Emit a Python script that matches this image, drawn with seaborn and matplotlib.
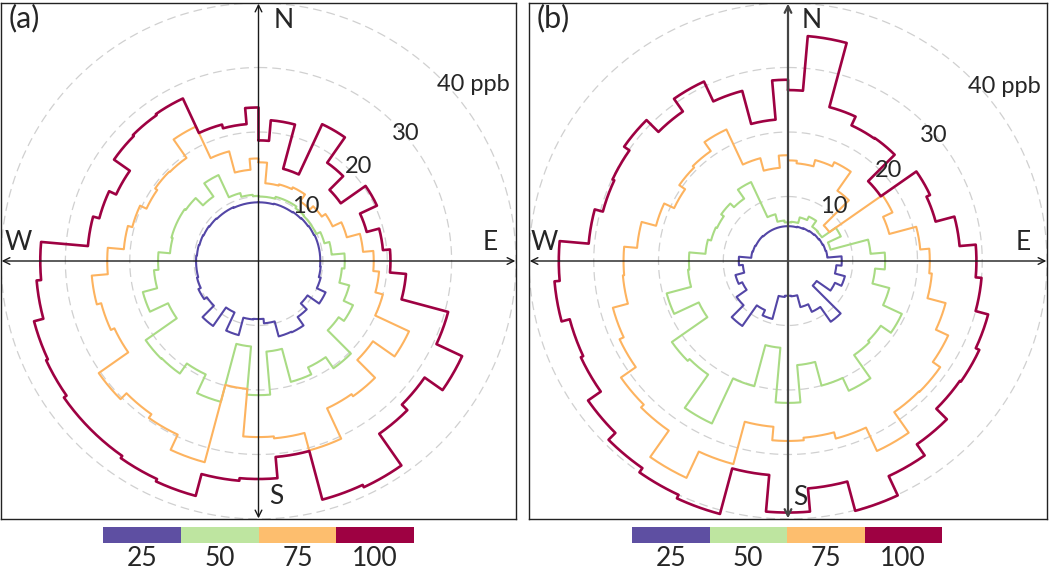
import numpy as np
import pandas as pd
import seaborn as sns
import matplotlib
matplotlib.use("Agg")
import matplotlib.pyplot as plt
from matplotlib.colors import ListedColormap

# wind direction bins (deg from north); 0 covers 0-5, 360 covers 355-360
dirs = list(range(0, 361, 10))

# panel (a) percentile radii, ppb
a_p25 = [9.1, 9.1, 9.2, 9.2, 9.3, 9.4, 9.5, 9.6, 9.6, 9.6, 9.7, 10.0, 11.5, 9.3, 10.6, 12.2, 12.1, 9.7, 9.0,
         9.1, 11.9, 8.8, 12.3, 9.8, 10.3, 9.9, 9.7, 9.7, 9.6, 9.5, 9.4, 9.3, 9.2, 9.2, 9.1, 9.1, 9.1]
a_p50 = [10.0, 10.0, 10.3, 10.3, 10.0, 9.9, 9.9, 10.6, 11.4, 13.4, 13.0, 14.6, 16.2, 15.2, 20.3, 18.2, 19.4, 14.1, 20.8,
         13.3, 22.6, 19.4, 21.3, 21.4, 15.5, 18.6, 16.3, 15.6, 13.8, 14.0, 14.0, 13.8, 12.2, 14.7, 10.9, 10.3, 10.1]
a_p75 = [15.3, 12.1, 12.3, 12.6, 11.3, 12.0, 12.7, 14.2, 16.3, 17.9, 18.8, 20.0, 25.8, 21.7, 25.6, 25.2, 30.4, 27.6, 27.3,
         19.9, 32.3, 29.7, 29.0, 30.3, 24.7, 25.3, 26.0, 23.5, 21.0, 20.3, 19.2, 19.6, 19.5, 23.0, 17.6, 14.2, 15.9]
a_p100 = [18.7, 21.9, 14.8, 23.4, 18.6, 15.6, 20.3, 17.4, 19.4, 20.5, 23.0, 30.5, 34.9, 31.5, 32.7, 38.7, 38.3, 30.5, 33.8,
          34.2, 37.7, 37.3, 36.9, 36.9, 36.4, 36.1, 34.6, 33.9, 26.6, 25.6, 24.4, 27.4, 27.6, 27.8, 21.9, 21.3, 23.8]

# panel (b)
b_p25 = [5.4, 5.4, 5.5, 5.6, 5.7, 5.8, 5.9, 6.0, 6.1, 8.3, 7.5, 9.1, 8.0, 5.4, 11.5, 8.7, 7.4, 5.5, 5.4,
         5.6, 9.3, 8.4, 12.3, 9.7, 7.8, 8.4, 7.0, 7.6, 5.7, 5.6, 5.5, 5.5, 5.4, 5.4, 5.4, 5.4, 5.4]
b_p50 = [6.0, 6.1, 7.0, 7.6, 6.5, 6.4, 9.0, 6.8, 12.8, 15.0, 13.5, 16.2, 19.4, 17.5, 17.8, 22.2, 20.0, 16.2, 22.0,
         13.5, 20.1, 27.8, 21.5, 21.9, 15.2, 19.4, 15.5, 15.3, 12.8, 12.3, 12.1, 12.6, 11.8, 13.5, 7.5, 6.3, 6.0]
b_p75 = [15.6, 15.2, 16.2, 16.9, 13.3, 7.8, 17.8, 16.2, 20.5, 21.9, 22.3, 25.2, 27.3, 28.7, 28.6, 32.5, 28.5, 27.5, 27.9,
         25.8, 32.6, 37.1, 32.1, 31.5, 28.7, 28.0, 25.6, 25.4, 23.4, 21.1, 19.4, 20.5, 20.8, 22.5, 16.5, 14.5, 16.4]
b_p100 = [26.5, 35.0, 24.7, 23.2, 23.3, 17.5, 24.2, 23.6, 26.6, 29.1, 30.0, 32.0, 32.6, 32.4, 34.7, 36.8, 40.1, 35.4, 39.0,
          33.3, 40.6, 40.0, 39.2, 37.7, 35.3, 34.9, 36.2, 35.4, 30.9, 29.6, 29.9, 30.9, 28.3, 30.7, 27.3, 22.0, 28.1]

pct_labels = ["25", "50", "75", "100"]
bar_cols = ["#5E4FA2", "#BEE5A0", "#FDBE6E", "#9E0142"]
line_cols = ["#5346A6", "#A9DB84", "#FDB35F", "#9E0142"]
line_w = [1.5, 1.5, 1.5, 1.9]
rings = [10, 20, 30, 40]
ring_labels = ["10", "20", "30", "40 ppb"]

sns.set_theme(style="white")
plt.rcParams["font.family"] = ["Lato", "DejaVu Sans"]


def rose_path(vals):
    # stepped polar outline: constant radius across each 10 degree bin
    th, rr = [], []
    for c, v in zip(dirs, vals):
        a0, a1 = max(c - 5, 0), min(c + 5, 360)
        a = np.linspace(a0, a1, int(a1 - a0) * 2 + 1)
        th.extend(a)
        rr.extend([v] * len(a))
    th.append(th[0]); rr.append(rr[0])
    th = np.radians(th)
    rr = np.array(rr)
    return pd.DataFrame({"x": rr * np.sin(th), "y": rr * np.cos(th)})


fig = plt.figure(figsize=(10.5, 5.72), dpi=100)

panels = [
    dict(tag="(a)", series=[a_p25, a_p50, a_p75, a_p100], pos=[1/1050, 53/572, 515/1050, 516/572],
         cbar=[103/1050, 29/572, 311/1050, 16/572], vcol="k", vlw=1.0,
         nsew=[(3.9, 37.3), (2.8, -36.5), (36.0, 2.9), (-37.3, 2.9)],
         rlab=[(7.3, 8.5), (15.5, 14.6), (22.8, 19.7), (33.4, 27.3)]),
    dict(tag="(b)", series=[b_p25, b_p50, b_p75, b_p100], pos=[529/1050, 53/572, 518/1050, 516/572],
         cbar=[632/1050, 29/572, 310/1050, 16/572], vcol="#444444", vlw=1.6,
         nsew=[(3.7, 37.3), (1.9, -36.6), (36.3, 2.8), (-37.7, 2.9)],
         rlab=[(7.0, 8.4), (15.5, 14.0), (22.5, 19.4), (33.4, 27.0)]),
]

for p in panels:
    ax = fig.add_axes(p["pos"])
    t = np.linspace(0, 2 * np.pi, 400)
    for r in rings:
        ax.plot(r * np.sin(t), r * np.cos(t), color="#d0d0d0", lw=0.9, ls=(0, (7, 4)), zorder=1)

    for vals, col, lw in zip(p["series"], line_cols, line_w):
        df = rose_path(vals)
        sns.lineplot(data=df, x="x", y="y", sort=False, estimator=None, color=col, lw=lw, ax=ax, zorder=3)

    ax.annotate("", xy=(39.9, 0), xytext=(-39.9, 0),
                arrowprops=dict(arrowstyle="<->", color="k", lw=1.0, shrinkA=0, shrinkB=0, mutation_scale=12),
                zorder=5)
    ax.annotate("", xy=(0, 39.9), xytext=(0, -39.9),
                arrowprops=dict(arrowstyle="<->", color=p["vcol"], lw=p["vlw"], shrinkA=0, shrinkB=0,
                                mutation_scale=12), zorder=5)

    for lab, (x, y) in zip(["N", "S", "E", "W"], p["nsew"]):
        ax.text(x, y, lab, fontsize=19, ha="center", va="center", zorder=6)
    for lab, (x, y) in zip(ring_labels, p["rlab"]):
        ax.text(x, y, lab, fontsize=17, ha="center", va="center", zorder=6)
    ax.text(-38.8, 37.6, p["tag"], fontsize=22, ha="left", va="center", zorder=6)

    ax.set_xlim(-40, 40)
    ax.set_ylim(-40, 40)
    ax.set_xticks([])
    ax.set_yticks([])
    ax.set_xlabel("")
    ax.set_ylabel("")
    for s in ax.spines.values():
        s.set_color("#222222")
        s.set_linewidth(1.0)

    cax = fig.add_axes(p["cbar"])
    sns.heatmap(np.array([[0, 1, 2, 3]]), cmap=ListedColormap(bar_cols), cbar=False, ax=cax,
                xticklabels=pct_labels, yticklabels=False, linewidths=0)
    cax.tick_params(axis="x", length=0, labelsize=19, pad=2, rotation=0)

fig.savefig("out.png", dpi=100)
